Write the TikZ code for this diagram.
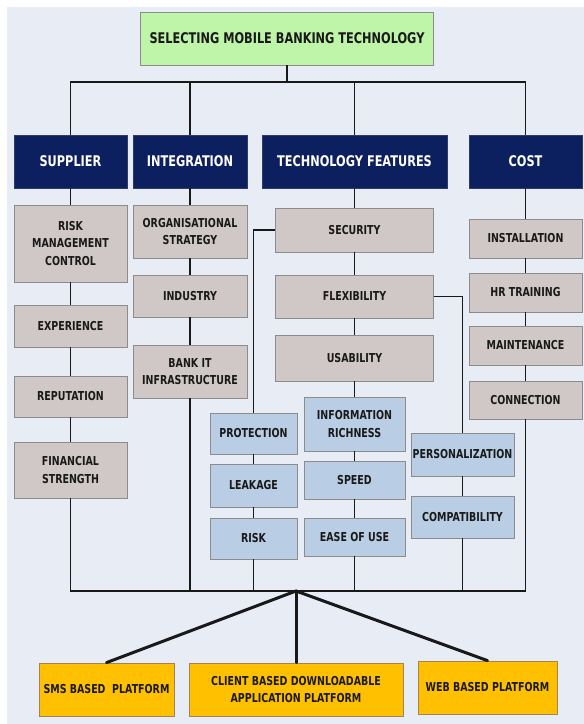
\documentclass[tikz,border=0pt]{standalone}
\usepackage{fontspec}
\setmainfont{DejaVu Sans}[FakeStretch=0.77]
\definecolor{paleBg}{RGB}{232,237,245}
\definecolor{titleGreen}{RGB}{190,245,168}
\definecolor{headNavy}{RGB}{12,31,94}
\definecolor{itemGray}{RGB}{207,200,198}
\definecolor{itemBlue}{RGB}{185,205,228}
\definecolor{platGold}{RGB}{255,192,0}
\definecolor{edgeGray}{RGB}{140,140,140}
\usepackage{tikz}
\usetikzlibrary{positioning,calc}

\begin{document}
\begin{tikzpicture}[x=1pt,y=-1pt,
    box/.style={draw=edgeGray,line width=0.8pt,inner sep=0pt,align=center,
        font=\fontsize{12.3}{17.5}\selectfont\bfseries,text=black!90},
    headBox/.style={box,fill=headNavy,draw=headNavy!70!gray,text=white,
        font=\fontsize{14.7}{17}\selectfont\bfseries},
    titleBox/.style={box,fill=titleGreen,font=\fontsize{14.7}{17}\selectfont\bfseries},
    grayBox/.style={box,fill=itemGray},
    blueBox/.style={box,fill=itemBlue},
    goldBox/.style={box,fill=platGold,draw=brown!60!gray},
    link/.style={draw=black!90,line width=1.4pt},
    fan/.style={draw=black!90,line width=3pt,line cap=round}]
    % canvas
    \useasboundingbox (0,0) rectangle (584,724);
    \fill[paleBg] (7,7) rectangle (584,724);

    % title and main criteria
    \node[titleBox,minimum width=293,minimum height=53] (title) at (287,38.5) {SELECTING MOBILE BANKING TECHNOLOGY};
    \node[headBox,minimum width=113,minimum height=53] (supplier) at (70.5,161.5) {SUPPLIER};
    \node[headBox,minimum width=114,minimum height=53] (integration) at (190,161.5) {INTEGRATION};
    \node[headBox,minimum width=185,minimum height=53] (techFeatures) at (354.5,161.5) {TECHNOLOGY FEATURES};
    \node[headBox,minimum width=113,minimum height=53] (cost) at (525.5,161.5) {COST};

    % supplier column
    \node[grayBox,minimum width=113,minimum height=77] (riskMgmt) at (70.5,243.5) {RISK\\MANAGEMENT\\CONTROL};
    \node[grayBox,minimum width=113,minimum height=42] (experience) at (70.5,326) {EXPERIENCE};
    \node[grayBox,minimum width=113,minimum height=41] (reputation) at (70.5,396.5) {REPUTATION};
    \node[grayBox,minimum width=113,minimum height=56] (finStrength) at (70.5,470) {FINANCIAL\\STRENGTH};

    % integration column
    \node[grayBox,minimum width=114,minimum height=53] (orgStrategy) at (190,231.5) {ORGANISATIONAL\\STRATEGY};
    \node[grayBox,minimum width=114,minimum height=42] (industry) at (190,296) {INDUSTRY};
    \node[grayBox,minimum width=114,minimum height=53] (bankIT) at (190,371.5) {BANK IT\\INFRASTRUCTURE};

    % technology features column
    \node[grayBox,minimum width=158,minimum height=44] (security) at (354.5,230) {SECURITY};
    \node[grayBox,minimum width=158,minimum height=43] (flexibility) at (354.5,296.5) {FLEXIBILITY};
    \node[grayBox,minimum width=158,minimum height=46] (usability) at (354.5,358) {USABILITY};

    \node[blueBox,minimum width=87,minimum height=41] (protection) at (253.5,433.5) {PROTECTION};
    \node[blueBox,minimum width=87,minimum height=43] (leakage) at (253.5,485.5) {LEAKAGE};
    \node[blueBox,minimum width=87,minimum height=41] (risk) at (253.5,538.5) {RISK};

    \node[blueBox,minimum width=101,minimum height=54] (infoRich) at (354.5,424) {INFORMATION\\RICHNESS};
    \node[blueBox,minimum width=101,minimum height=38] (speed) at (354.5,480) {SPEED};
    \node[blueBox,minimum width=101,minimum height=38] (easeOfUse) at (354.5,537) {EASE OF USE};

    \node[blueBox,minimum width=103,minimum height=43] (personalization) at (462.5,454.5) {PERSONALIZATION};
    \node[blueBox,minimum width=103,minimum height=42] (compatibility) at (462.5,517) {COMPATIBILITY};

    % cost column
    \node[grayBox,minimum width=113,minimum height=39] (installation) at (525.5,238.5) {INSTALLATION};
    \node[grayBox,minimum width=113,minimum height=39] (hrTraining) at (525.5,292.5) {HR TRAINING};
    \node[grayBox,minimum width=113,minimum height=39] (maintenance) at (525.5,345.5) {MAINTENANCE};
    \node[grayBox,minimum width=113,minimum height=38] (connection) at (525.5,400) {CONNECTION};

    % platforms
    \node[goldBox,minimum width=135,minimum height=53] (sms) at (106.5,689.5) {SMS BASED~ PLATFORM};
    \node[goldBox,minimum width=214,minimum height=53] (client) at (296,689.5) {CLIENT BASED DOWNLOADABLE\\APPLICATION PLATFORM};
    \node[goldBox,minimum width=139,minimum height=53] (web) at (487.5,687.5) {WEB BASED PLATFORM};

    % upper bus
    \coordinate (topBus) at (287,82);
    \draw[link] (title.south) -- (topBus);
    \draw[link] (supplier.north) -- (supplier.north |- topBus) -- (cost.north |- topBus) -- (cost.north);
    \draw[link] (integration.north) -- (integration.north |- topBus);
    \draw[link] (techFeatures.north) -- (techFeatures.north |- topBus);

    % chains
    \foreach \a/\b in {supplier/riskMgmt,riskMgmt/experience,experience/reputation,reputation/finStrength,
        integration/orgStrategy,orgStrategy/industry,industry/bankIT,
        techFeatures/security,security/flexibility,flexibility/usability,usability/infoRich,infoRich/speed,speed/easeOfUse,
        protection/leakage,leakage/risk,personalization/compatibility,
        cost/installation,installation/hrTraining,hrTraining/maintenance,maintenance/connection}
        \draw[link] (\a.south) -- (\b.north);
    \draw[link] (security.west) -- (security.west -| protection.north) -- (protection.north);
    \draw[link] (flexibility.east) -| (personalization.north);

    % lower bus
    \coordinate (bottomBus) at (296,591);
    \draw[link] (finStrength.south) -- (finStrength.south |- bottomBus) -- (connection.south |- bottomBus) -- (connection.south);
    \foreach \a in {bankIT,risk,easeOfUse,compatibility}
        \draw[link] (\a.south) -- (\a.south |- bottomBus);

    % to the platforms
    \draw[fan] (bottomBus) -- (sms.north);
    \draw[fan] (bottomBus) -- (client.north);
    \draw[fan] (bottomBus) -- (web.north);
\end{tikzpicture}
\end{document}
